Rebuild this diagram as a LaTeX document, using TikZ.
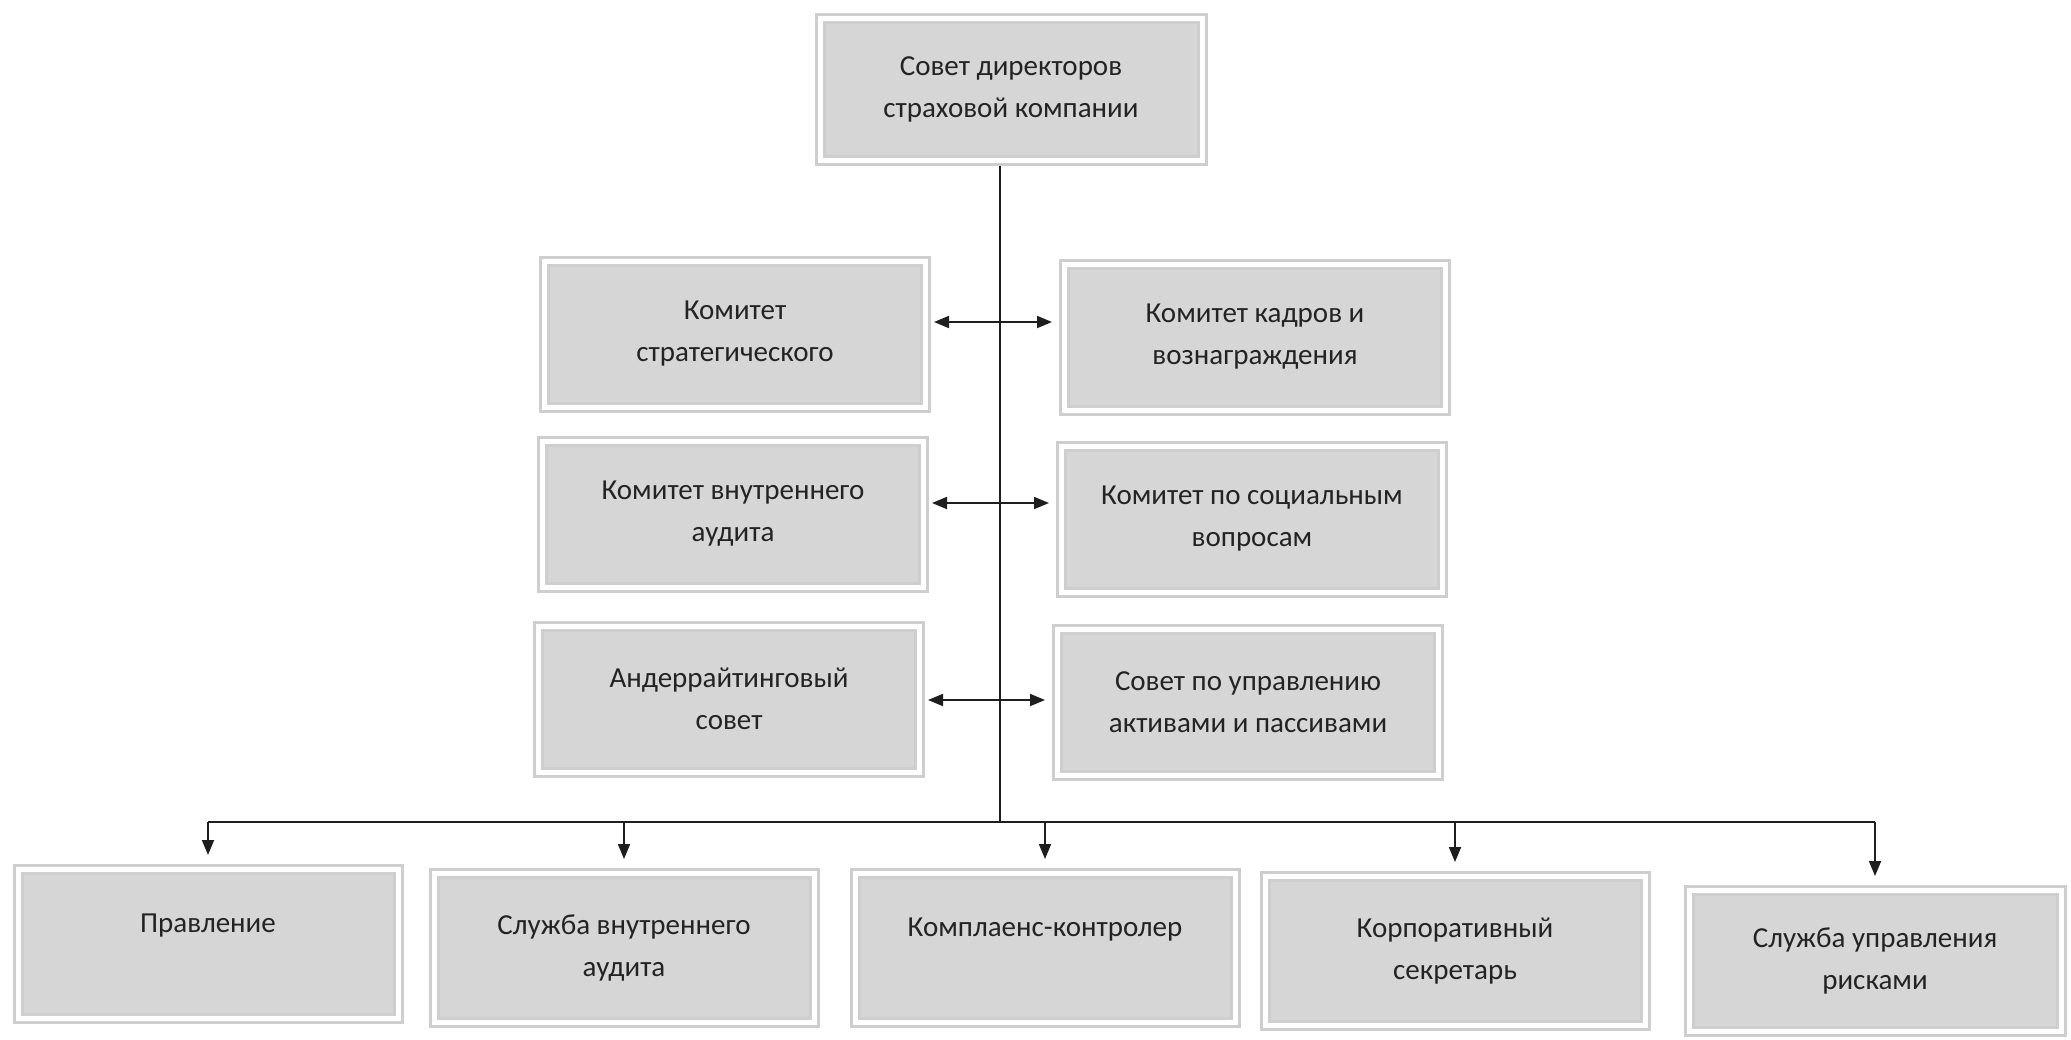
\documentclass[tikz,border=0pt]{standalone}
\usepackage{fontspec}
\setmainfont{Carlito}
\usetikzlibrary{arrows.meta}
\definecolor{boxfill}{RGB}{214,214,214}
\definecolor{boxframe}{RGB}{206,206,206}
\definecolor{ink}{RGB}{35,35,35}
\definecolor{wire}{RGB}{30,30,30}
\begin{document}
\begin{tikzpicture}[x=1pt,y=-1pt,
  box/.style={draw=boxframe, double=white, double distance=5pt, line width=3pt,
    fill=boxfill, inner sep=0pt, outer sep=5.5pt, align=center, text=ink,
    font=\fontsize{29}{42}\selectfont},
  midbox/.style={box, minimum width=381pt, minimum height=146pt},
  botbox/.style={box, minimum width=380pt, minimum height=149pt},
  wireline/.style={draw=wire, line width=1.8pt},
  tip/.style={-{Triangle[length=15pt,width=12pt]}},
  twotip/.style={{Triangle[length=15pt,width=12pt]}-{Triangle[length=15pt,width=12pt]}, shorten <=3pt, shorten >=7pt}
]
\useasboundingbox (0,0) rectangle (2071,1039);

\node[box, minimum width=382pt, minimum height=142pt] (top) at (1011,89) {Совет директоров\\страховой компании};

\node[midbox] (r1L) at (735,334) {Комитет\\стратегического};
\node[midbox] (r1R) at (1255,337) {Комитет кадров и\\вознаграждения};
\node[midbox] (r2L) at (733,514) {Комитет внутреннего\\аудита};
\node[midbox] (r2R) at (1252,519) {Комитет по социальным\\вопросам};
\node[midbox] (r3L) at (729,699) {Андеррайтинговый\\совет};
\node[midbox] (r3R) at (1248,702) {Совет по управлению\\активами и пассивами};

\node[botbox] (b1) at (208,944) {Правление\\~};
\node[botbox] (b2) at (624,948) {Служба внутреннего\\аудита};
\node[botbox] (b3) at (1045,948) {Комплаенс-контролер\\~};
\node[botbox] (b4) at (1455,951) {Корпоративный\\секретарь};
\node[box, minimum width=372pt, minimum height=141pt] (b5) at (1875,961) {Служба управления\\рисками};

\coordinate (trunk) at (1000,822);
\coordinate (a1) at (1000,322);
\coordinate (a2) at (1000,503);
\coordinate (a3) at (1000,700);

\draw[wireline] (top.south -| trunk) -- (trunk);
\draw[wireline] (b1.north |- trunk) -- (b5.north |- trunk);

\foreach \b in {b1,b2,b3,b4,b5}
  \draw[wireline, tip, shorten >=9pt] (\b.north |- trunk) -- (\b.north);

\draw[wireline, twotip] (r1L.east |- a1) -- (r1R.west |- a1);
\draw[wireline, twotip] (r2L.east |- a2) -- (r2R.west |- a2);
\draw[wireline, twotip] (r3L.east |- a3) -- (r3R.west |- a3);
\end{tikzpicture}
\end{document}
